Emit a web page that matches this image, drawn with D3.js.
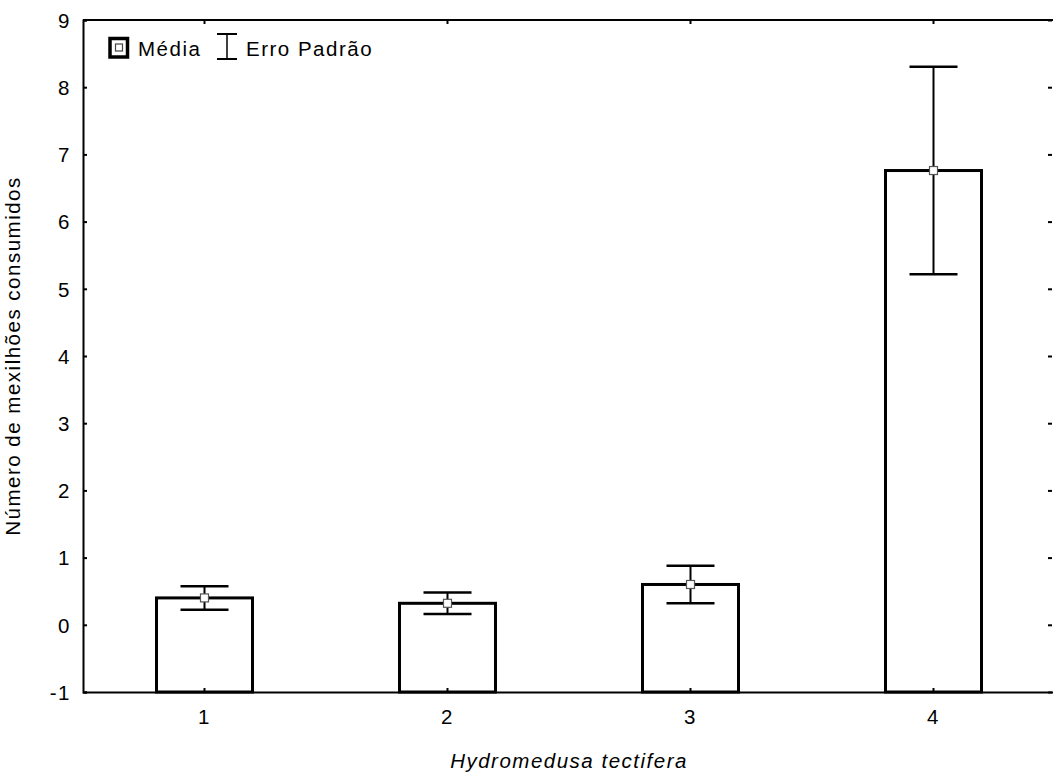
<!DOCTYPE html>
<html><head><meta charset="utf-8">
<script src="https://cdn.jsdelivr.net/npm/d3@7"></script>
<style>body{margin:0;background:#fff}svg{display:block}text{font-family:"Liberation Sans",Arial,sans-serif;fill:#000;letter-spacing:1.5px}</style>
</head><body>
<svg id="c" width="1053" height="781"></svg>
<script>
const categories = ["1","2","3","4"];
const means = [0.40, 0.32, 0.60, 6.76];
const stdErrors = [0.175, 0.16, 0.28, 1.545];
const yTicks = [-1,0,1,2,3,4,5,6,7,8,9];
const xTitle = "Hydromedusa tectifera";
const yTitle = "Número de mexilhões consumidos";

const FS = "20.5px";
const svg = d3.select("#c");
const L = 83, R = 1055, T = 20, B = 692;
const x = d3.scaleBand().domain(categories).range([L, R]).paddingInner(0).paddingOuter(0);
const y = d3.scaleLinear().domain([-1, 9]).range([B, T]);
const barW = 96;

// frame
svg.append("line").attr("x1",L).attr("x2",R).attr("y1",T).attr("y2",T).attr("stroke","#000").attr("stroke-width",2);
svg.append("line").attr("x1",R).attr("x2",R).attr("y1",T).attr("y2",B).attr("stroke","#000").attr("stroke-width",2);

// y axis left
const yl = svg.append("g").attr("transform",`translate(${L},0)`)
  .call(d3.axisLeft(y).tickValues(yTicks).tickSize(-4).tickPadding(12).tickFormat(d=>String(d)));
yl.select(".domain").attr("stroke-width",2);
yl.selectAll(".tick line").attr("stroke-width",2);
yl.selectAll("text").style("font-size",FS).attr("dy","0.36em");
// y axis right ticks
const yr = svg.append("g").attr("transform",`translate(${R-3},0)`)
  .call(d3.axisRight(y).tickValues(yTicks).tickSize(-4).tickFormat(""));
yr.select(".domain").remove();
yr.selectAll(".tick line").attr("stroke-width",2);

// bars
const g = svg.append("g");
g.selectAll("rect.bar").data(categories).join("rect").attr("class","bar")
  .attr("x",d=>x(d)+x.bandwidth()/2-barW/2).attr("width",barW)
  .attr("y",(d,i)=>y(means[i])).attr("height",(d,i)=>y(-1)-y(means[i]))
  .attr("fill","#fff").attr("stroke","#000").attr("stroke-width",3);

// x axis bottom
const xb = svg.append("g").attr("transform",`translate(0,${B})`)
  .call(d3.axisBottom(x).tickSize(-4).tickPadding(17).tickSizeOuter(0));
xb.select(".domain").attr("stroke-width",2);
xb.selectAll(".tick line").attr("stroke-width",2);
xb.selectAll("text").style("font-size",FS);
// top ticks
const xt = svg.append("g").attr("transform",`translate(0,${T})`)
  .call(d3.axisTop(x).tickSize(-4).tickFormat(""));
xt.select(".domain").remove();
xt.selectAll(".tick line").attr("stroke-width",2);

// error bars
const cx = d=>x(d)+x.bandwidth()/2;
const capW = 48;
categories.forEach((c,i)=>{
  const hi = y(means[i]+stdErrors[i]), lo = y(means[i]-stdErrors[i]);
  g.append("line").attr("x1",cx(c)).attr("x2",cx(c)).attr("y1",hi).attr("y2",lo).attr("stroke","#000").attr("stroke-width",2);
  g.append("line").attr("x1",cx(c)-capW/2).attr("x2",cx(c)+capW/2).attr("y1",hi).attr("y2",hi).attr("stroke","#000").attr("stroke-width",2.5);
  g.append("line").attr("x1",cx(c)-capW/2).attr("x2",cx(c)+capW/2).attr("y1",lo).attr("y2",lo).attr("stroke","#000").attr("stroke-width",2.5);
  g.append("rect").attr("x",cx(c)-4).attr("y",y(means[i])-4).attr("width",8).attr("height",8)
    .attr("fill","#fff").attr("stroke","#555").attr("stroke-width",1.2);
});

// titles
svg.append("text").attr("x",(L+R)/2).attr("y",768).attr("text-anchor","middle")
  .style("font-size",FS).style("font-style","italic").text(xTitle);
svg.append("text").attr("transform",`translate(20,${(T+B)/2}) rotate(-90)`).attr("text-anchor","middle")
  .style("font-size",FS).text(yTitle);

// legend
const lg = svg.append("g");
lg.append("rect").attr("x",110).attr("y",38.5).attr("width",17.5).attr("height",18.5).attr("fill","#fff").attr("stroke","#000").attr("stroke-width",3.5);
lg.append("rect").attr("x",115.5).attr("y",44).attr("width",7).attr("height",7).attr("fill","#fff").attr("stroke","#444").attr("stroke-width",1.2);
lg.append("text").attr("x",138).attr("y",56).style("font-size",FS).text("Média");
lg.append("line").attr("x1",217).attr("x2",237).attr("y1",34).attr("y2",34).attr("stroke","#000").attr("stroke-width",2);
lg.append("line").attr("x1",217).attr("x2",237).attr("y1",59).attr("y2",59).attr("stroke","#000").attr("stroke-width",2);
lg.append("line").attr("x1",227).attr("x2",227).attr("y1",34).attr("y2",59).attr("stroke","#000").attr("stroke-width",1.5);
lg.append("text").attr("x",246).attr("y",56).style("font-size",FS).text("Erro Padrão");
</script>
</body></html>
